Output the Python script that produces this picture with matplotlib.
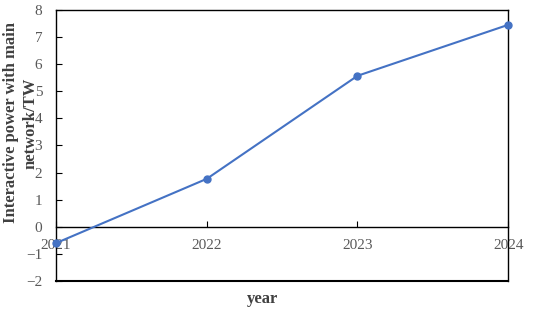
import matplotlib
matplotlib.use("Agg")
import matplotlib.pyplot as plt

years = [2021, 2022, 2023, 2024]
power = [-0.6, 1.77, 5.57, 7.45]
yticks = [-2, -1, 0, 1, 2, 3, 4, 5, 6, 7, 8]

plt.rcParams['font.family'] = ['Liberation Serif', 'DejaVu Serif']

fig = plt.figure(figsize=(5.5, 3.1), dpi=100)
ax = fig.add_axes([0.102, 0.0935, 0.822, 0.8745])

ax.plot(years, power, color='#4472C4', linewidth=1.5, marker='o', markersize=5, clip_on=False, zorder=3)

ax.set_xlim(2021, 2024)
ax.set_ylim(-2, 8)
ax.set_yticks(yticks)
ax.set_xticks(years)
ax.set_xticklabels([str(y) for y in years])

ax.spines['bottom'].set_position(('data', 0))
for s in ax.spines.values():
    s.set_color('black')
    s.set_linewidth(1.0)
ax.plot([0, 1], [0, 0], transform=ax.transAxes, color='black', linewidth=1.5, clip_on=False)

ax.tick_params(axis='x', direction='in', length=4, colors='black', labelcolor='#595959', labelsize=11, pad=9)
ax.tick_params(axis='y', direction='in', length=4, colors='black', labelcolor='#595959', labelsize=11, pad=10)

ax.set_ylabel('Interactive power with main\nnetwork/TW', fontsize=12, fontweight='bold', color='#404040', linespacing=1.3)
ax.yaxis.label.set_va('center')
ax.yaxis.set_label_coords(-0.079, 0.583)
fig.text(0.478, 0.035, 'year', ha='center', va='center', fontsize=12, fontweight='bold', color='#404040')

fig.savefig('out.png', dpi=100)
